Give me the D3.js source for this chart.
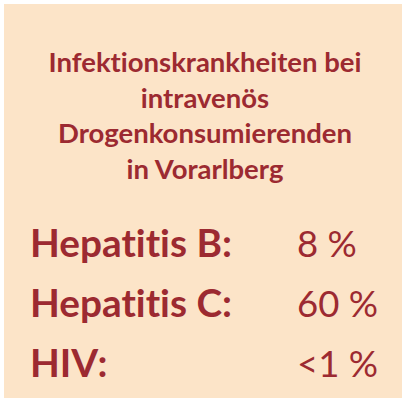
<!DOCTYPE html>
<html lang="de">
<head>
  <meta charset="UTF-8">
  <title>Infektionskrankheiten</title>
  <script src="https://d3js.org/d3.v7.min.js"></script>
  <style>
    html, body { margin: 0; padding: 0; background: #ffffff; }
    svg { display: block; }
    text {
      font-family: Lato, "Open Sans", sans-serif;
      fill: #9c2a31;
      font-variant-ligatures: none;
      font-feature-settings: "liga" 0;
    }
  </style>
</head>
<body>
  <div id="chart"></div>
  <script>
    // Texts and values
    const titleLines = ["Infektionskrankheiten bei", "intravenös", "Drogenkonsumierenden", "in Vorarlberg"];
    const diseases = ["Hepatitis B:", "Hepatitis C:", "HIV:"];
    const shares = ["8 %", "60 %", "<1 %"];

    const W = 402, H = 401;
    const svg = d3.select("#chart").append("svg")
      .attr("width", W)
      .attr("height", H);

    // beige panel
    svg.append("rect")
      .attr("x", 4).attr("y", 4)
      .attr("width", 398).attr("height", 394)
      .attr("fill", "#fce4c8");

    // title baselines
    const yTitle = d3.scalePoint().domain(d3.range(titleLines.length)).range([72, 179]);
    const title = svg.append("g").selectAll("text")
      .data(titleLines)
      .join("text")
      .attr("x", 205)
      .attr("y", (d, i) => yTitle(i))
      .attr("text-anchor", "middle")
      .attr("font-weight", "bold")
      .attr("font-size", 22)
      .text(d => d);

    // fit title size to the first line width (~313px)
    const w1 = title.node().getComputedTextLength();
    title.attr("font-size", 22 * 313 / w1);

    // rows
    const yRow = d3.scalePoint().domain(diseases).range([257, 377]);
    const labels = svg.append("g").selectAll("text")
      .data(diseases)
      .join("text")
      .attr("x", 30)
      .attr("y", d => yRow(d))
      .attr("font-weight", "bold")
      .attr("font-size", 36)
      .text(d => d);
    const w2 = labels.node().getComputedTextLength();
    labels.attr("font-size", 36 * 202 / w2);

    const vals = svg.append("g").selectAll("text")
      .data(shares)
      .join("text")
      .attr("x", 297)
      .attr("y", (d, i) => yRow(diseases[i]))
      .attr("font-size", 36)
      .text(d => d);
    // "60 %" spans about 297..378
    const w3 = vals.nodes()[1].getComputedTextLength();
    vals.attr("font-size", 36 * 81 / w3);
  </script>
</body>
</html>
